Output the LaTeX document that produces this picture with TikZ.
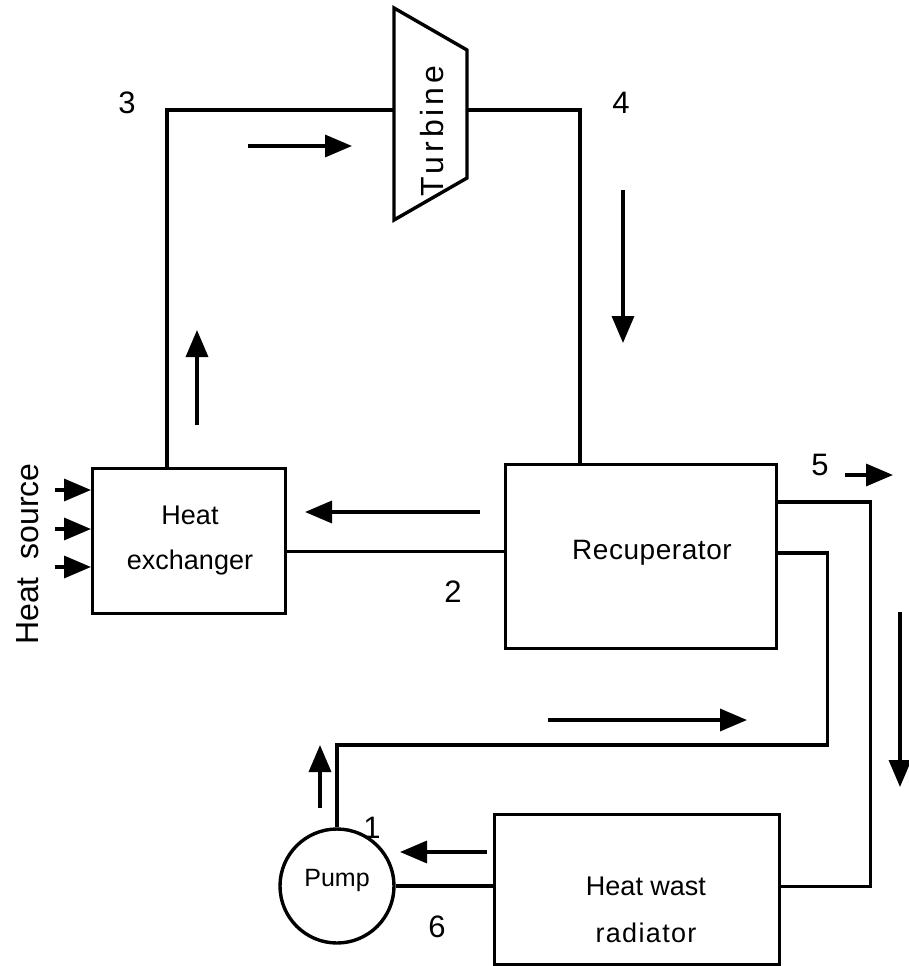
\documentclass[tikz,border=0pt]{standalone}
\usepackage{fontspec}
\setmainfont{Liberation Sans}
\usetikzlibrary{arrows.meta}
\begin{document}
\begin{tikzpicture}[x=1pt,y=-1pt,line width=3.4pt,
  box/.style={draw,rectangle,line width=3.4pt,inner sep=0pt},
  flow/.style={-{Triangle[length=27pt,width=22pt]},line width=3.4pt},
  lbl/.style={font=\fontsize{27}{45}\selectfont,align=center},
  num/.style={font=\fontsize{31}{36}\selectfont}]
\useasboundingbox (0,0) rectangle (908,966);
% components
\node[box,minimum width=193pt,minimum height=145pt,anchor=north west] (hx) at (91,467) {};
\node[lbl] (hxt) at (190,541) {Heat\\exchanger};
\node[box,minimum width=271pt,minimum height=184pt,anchor=north west] (rec) at (504,463) {};
\node[font=\fontsize{28}{45}\selectfont\addfontfeature{LetterSpace=2}] (rect) at (652,553) {Recuperator};
\node[box,minimum width=285pt,minimum height=150pt,anchor=north west] (rad) at (493,813) {};
\node[lbl,font=\fontsize{27}{47}\selectfont] (radt) at (646,910) {Heat wast\\{\addfontfeature{LetterSpace=5}radiator}};
\node[draw,circle,minimum size=114pt,inner sep=0pt,line width=3.4pt] (pump) at (337,886) {};
\node[font=\fontsize{25}{30}\selectfont] (pumpt) at (337,880) {Pump};
\draw (394,8) -- (467,50) -- (467,178) -- (394,220) -- cycle;
\node[font=\fontsize{32}{36}\selectfont\addfontfeature{LetterSpace=12},rotate=90] (turt) at (432,131) {Turbine};
\coordinate (tin) at (394,110);
\coordinate (tout) at (467,110);
% pipes
\draw ([xshift=76pt]hx.north west) |- (tin);
\draw (tout) -| ([xshift=76pt]rec.north west);
\draw ([yshift=-10pt]hx.east) -- ([yshift=-10pt]hx.east -| rec.west);
\draw ([yshift=-39pt]rec.north east) -- ++(92,0) |- ([yshift=3pt]rad.east);
\draw ([yshift=-90pt]rec.north east) -- ++(49,0) -- ++(0,192) -| (pump.north);
\draw (pump.east) -- (pump.east -| rad.west);
% flow arrows
\draw[flow] (248,146) -- (352,146);
\draw[flow] (623,190) -- (623,343);
\draw[flow] (197,425) -- (197,330);
\draw[flow] (480,512) -- (305,512);
\draw[flow] (548,720) -- (747,720);
\draw[flow] (900,612) -- (900,787);
\draw[flow] (487,852) -- (400,852);
\draw[flow] (320,808) -- (320,745);
\draw[flow] (845,475) -- (893,475);
\draw[flow] (55,490) -- (hx.west |- 0,490);
\draw[flow] (55,529) -- (hx.west |- 0,529);
\draw[flow] (55,567) -- (hx.west |- 0,567);
% labels
\node[font=\fontsize{32}{38}\selectfont,rotate=90] (hs) at (28,554) {Heat~~source};
\node[num] (n3) at (127,103) {3};
\node[num] (n4) at (621,103) {4};
\node[num] (n5) at (820,465) {5};
\node[num] (n2) at (453,592) {2};
\node[num] (n1) at (372,828) {1};
\node[num] (n6) at (437,927) {6};
\end{tikzpicture}
\end{document}
